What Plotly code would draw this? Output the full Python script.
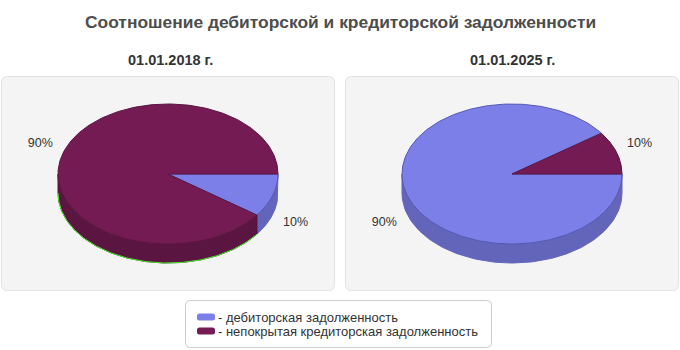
import numpy as np
import plotly.graph_objects as go

# ---- data ----
categories = ["дебиторская задолженность", "непокрытая кредиторская задолженность"]
dates = ["01.01.2018 г.", "01.01.2025 г."]
values_2018 = [10, 90]
values_2025 = [90, 10]
title_text = "Соотношение дебиторской и кредиторской задолженности"

# ---- style ----
top_colors = ["#7d7fe9", "#741b54"]
side_colors = ["#6365ba", "#5b1541"]
edge_colors = ["#5558b0", "#5b1541"]
W, H = 680, 350
RX, RY, DEPTH = 110, 70, 19
PADX, PADY = 55, 45
FONT = "Liberation Sans, Arial, sans-serif"

fig = go.Figure()


def px_x(x):
    return x / W


def px_y(y):
    return 1 - y / H


def add_pie(values, axis_idx):
    xa = "x" if axis_idx == 1 else f"x{axis_idx}"
    ya = "y" if axis_idx == 1 else f"y{axis_idx}"
    total = float(sum(values))
    cum = 0.0
    slices = []
    for i, v in enumerate(values):
        a0 = -cum / total * 360.0
        a1 = -(cum + v) / total * 360.0
        cum += v
        slices.append((i, a0, a1, v))
    # side walls (front half: angles in [-180, 0])
    for i, a0, a1, v in slices:
        lo, hi = max(min(a0, a1), -180.0), min(max(a0, a1), 0.0)
        if hi > lo:
            t = np.radians(np.linspace(lo, hi, 120))
            xs = np.concatenate([RX * np.cos(t), RX * np.cos(t[::-1])])
            ys = np.concatenate([RY * np.sin(t), RY * np.sin(t[::-1]) - DEPTH])
            fig.add_trace(go.Scatter(
                x=np.append(xs, xs[0]), y=np.append(ys, ys[0]), mode="lines",
                fill="toself", fillcolor=side_colors[i],
                line=dict(color=side_colors[i], width=1),
                xaxis=xa, yaxis=ya, hoverinfo="skip", showlegend=False))
            if i == 1:
                fig.add_trace(go.Scatter(
                    x=RX * np.cos(t), y=RY * np.sin(t) - DEPTH, mode="lines",
                    line=dict(color="#44ee22", width=1),
                    xaxis=xa, yaxis=ya, hoverinfo="skip", showlegend=False))
    # top faces
    for i, a0, a1, v in slices:
        t = np.radians(np.linspace(a0, a1, 240))
        xs = np.concatenate([[0], RX * np.cos(t), [0]])
        ys = np.concatenate([[0], RY * np.sin(t), [0]])
        fig.add_trace(go.Scatter(
            x=xs, y=ys, mode="lines", fill="toself", fillcolor=top_colors[i],
            line=dict(color=edge_colors[i], width=1),
            xaxis=xa, yaxis=ya, hoverinfo="skip", showlegend=False,
            name=categories[i]))
    # labels
    lx, ly, lt = [], [], []
    for i, a0, a1, v in slices:
        m = np.radians((a0 + a1) / 2)
        s = np.sin(m)
        lx.append(RX * 1.22 * np.cos(m))
        ly.append(RY * 1.4 * s - (DEPTH if s < 0 else 0))
        lt.append(f"{round(v / total * 100)}%")
    fig.add_trace(go.Scatter(
        x=lx, y=ly, text=lt, mode="text", cliponaxis=False,
        textfont=dict(family=FONT, size=12.5, color="#333333"),
        xaxis=xa, yaxis=ya, hoverinfo="skip", showlegend=False))


centers = [168, 512]
top_px, bot_px = 104, 104 + 2 * RY + DEPTH
for k, (vals, cx) in enumerate(zip([values_2018, values_2025], centers), start=1):
    add_pie(vals, k)
    sx = "xaxis" if k == 1 else f"xaxis{k}"
    sy = "yaxis" if k == 1 else f"yaxis{k}"
    fig.update_layout(**{
        sx: dict(domain=[px_x(cx - RX - PADX), px_x(cx + RX + PADX)],
                 range=[-RX - PADX, RX + PADX],
                 visible=False, fixedrange=True, anchor="y" if k == 1 else f"y{k}"),
        sy: dict(domain=[px_y(bot_px + PADY), px_y(top_px - PADY)],
                 range=[-RY - DEPTH - PADY, RY + PADY],
                 visible=False, fixedrange=True, anchor="x" if k == 1 else f"x{k}"),
    })


def rounded_rect(x0, y0, x1, y1, r):
    X = lambda v: f"{px_x(v):.5f}"
    Y = lambda v: f"{px_y(v):.5f}"
    return (f"M {X(x0 + r)},{Y(y0)} L {X(x1 - r)},{Y(y0)} Q {X(x1)},{Y(y0)} {X(x1)},{Y(y0 + r)} "
            f"L {X(x1)},{Y(y1 - r)} Q {X(x1)},{Y(y1)} {X(x1 - r)},{Y(y1)} "
            f"L {X(x0 + r)},{Y(y1)} Q {X(x0)},{Y(y1)} {X(x0)},{Y(y1 - r)} "
            f"L {X(x0)},{Y(y0 + r)} Q {X(x0)},{Y(y0)} {X(x0 + r)},{Y(y0)} Z")


shapes = []
for x0, x1 in [(1.5, 334.5), (345.5, 678.5)]:
    shapes.append(dict(type="path", path=rounded_rect(x0, 76.5, x1, 290.5, 6),
                       xref="paper", yref="paper", fillcolor="#f4f4f4",
                       line=dict(color="#e2e2e2", width=1), layer="below"))
shapes.append(dict(type="path", path=rounded_rect(185.5, 300.5, 491.5, 347.5, 5),
                   xref="paper", yref="paper", fillcolor="#ffffff",
                   line=dict(color="#cccccc", width=1), layer="below"))
annotations = [
    dict(text=f"<b>{title_text}</b>", x=px_x(340), y=px_y(22), xref="paper", yref="paper",
         showarrow=False, font=dict(family=FONT, size=17.4, color="#4d4d4d"),
         xanchor="center", yanchor="middle"),
]
for d, cx in zip(dates, [170, 512]):
    annotations.append(dict(text=f"<b>{d}</b>", x=px_x(cx), y=px_y(60), xref="paper",
                            yref="paper", showarrow=False,
                            font=dict(family=FONT, size=14.5, color="#333333"),
                            xanchor="center", yanchor="middle"))
for i, (cat, ly) in enumerate(zip(categories, [317, 331])):
    shapes.append(dict(type="path", path=rounded_rect(197, ly - 3.5, 215, ly + 3.5, 2.5),
                       xref="paper", yref="paper", fillcolor=top_colors[i],
                       line=dict(width=0)))
    annotations.append(dict(text=f"- {cat}", x=px_x(216), y=px_y(ly), xref="paper",
                            yref="paper", showarrow=False, xanchor="left", yanchor="middle",
                            font=dict(family=FONT, size=13, color="#333333")))

fig.update_layout(
    width=W, height=H, margin=dict(l=0, r=0, t=0, b=0),
    paper_bgcolor="#ffffff", plot_bgcolor="rgba(0,0,0,0)",
    showlegend=False, shapes=shapes, annotations=annotations,
)
fig.write_html("out.html", config={"displayModeBar": False})
